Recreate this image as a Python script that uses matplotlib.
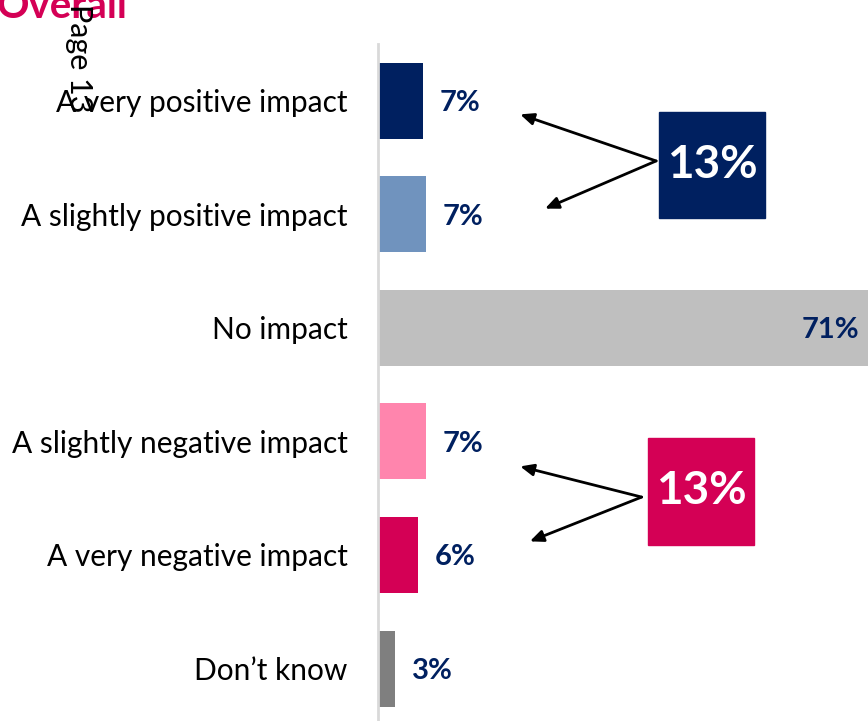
import matplotlib.pyplot as plt
from matplotlib.patches import Rectangle

categories = ['A very positive impact', 'A slightly positive impact', 'No impact',
              'A slightly negative impact', 'A very negative impact', 'Don\u2019t know']
values = [6.5, 6.9, 71, 6.9, 5.8, 2.5]
labels = ['7%', '7%', '71%', '7%', '6%', '3%']
colors = ['#002060', '#7093BE', '#BFBFBF', '#FF85AD', '#D40055', '#7F7F7F']
net_positive = '13%'
net_negative = '13%'

plt.rcParams['font.family'] = ['Lato', 'DejaVu Sans']
navy = '#002060'
pink = '#D40055'

fig = plt.figure(figsize=(8.68, 7.21), dpi=100)
ax = fig.add_axes([378 / 868, -0.006, 490 / 868, 0.945])

ypos = list(range(len(categories)))
ax.barh(ypos, values, height=0.67, color=colors, zorder=2)
ax.set_xlim(0, 71)
ax.set_ylim(5.5, -0.5)
ax.set_yticks(ypos)
ax.set_yticklabels(categories, fontsize=21.5)
ax.tick_params(axis='y', length=0, pad=22)
ax.set_xticks([])
for s in ['top', 'right', 'bottom']:
    ax.spines[s].set_visible(False)
ax.spines['left'].set_color('#D9D9D9')
ax.spines['left'].set_linewidth(2)

for i, (v, lab) in enumerate(zip(values, labels)):
    if v > 50:
        ax.text(v - 1.3, i + 0.02, lab, ha='right', va='center', fontsize=21,
                fontweight='bold', color=navy, zorder=3)
    else:
        ax.text(v + 2.4, i + 0.02, lab, ha='left', va='center', fontsize=21,
                fontweight='bold', color=navy, zorder=3)

# net boxes
ax.add_patch(Rectangle((40.7, 0.1), 15.4, 0.93, color=navy, clip_on=False, zorder=3))
ax.text(48.4, 0.57, net_positive, ha='center', va='center', fontsize=33,
        fontweight='bold', color='white', zorder=4)
ax.add_patch(Rectangle((39.1, 2.97), 15.4, 0.94, color=pink, clip_on=False, zorder=3))
ax.text(46.8, 3.44, net_negative, ha='center', va='center', fontsize=33,
        fontweight='bold', color='white', zorder=4)

arrow = dict(arrowstyle='-|>,head_length=0.8,head_width=0.35', color='black', lw=2,
             shrinkA=0, shrinkB=0)
ax.annotate('', xy=(20.6, 0.12), xytext=(40.3, 0.53), arrowprops=arrow)
ax.annotate('', xy=(24.2, 0.95), xytext=(40.3, 0.53), arrowprops=arrow)
ax.annotate('', xy=(20.6, 3.22), xytext=(38.2, 3.49), arrowprops=arrow)
ax.annotate('', xy=(22.0, 3.88), xytext=(38.2, 3.49), arrowprops=arrow)

fig.text(-0.004, 1.0 - 18 / 721, 'Overall', fontsize=29, fontweight='bold',
         color=pink, ha='left', va='baseline')
fig.text(79 / 868, 1.0 - 4 / 721, 'Page 13', fontsize=22, rotation=-90,
         ha='center', va='top', color='black')

fig.savefig('out.png', dpi=100)
